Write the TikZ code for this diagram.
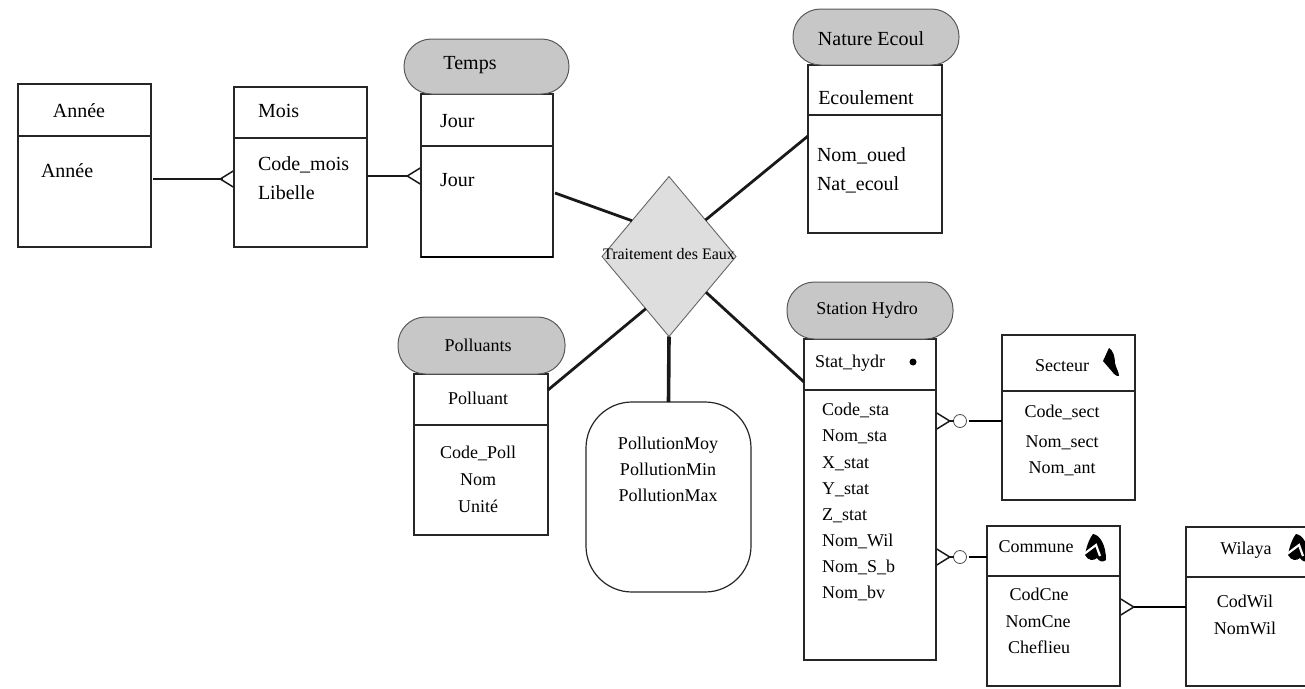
\documentclass[tikz,border=0pt]{standalone}
\usepackage{fontspec}
\setmainfont{Liberation Serif}
\usetikzlibrary{shapes.geometric,arrows.meta}
\tikzset{
  boite/.style={draw=black!85,line width=1.2pt,fill=white,rectangle,inner sep=0pt,outer sep=0pt,anchor=north west},
  tete/.style={draw=black!65,line width=1pt,fill=black!22,rectangle,rounded corners=27.5pt,inner sep=0pt,outer sep=0pt,anchor=north west},
  attr/.style={inner sep=0pt,outer sep=0pt,text height=18pt,text depth=4pt,font=\fontsize{18}{20}\selectfont},
  attrG/.style={attr,font=\fontsize{20}{22}\selectfont},
  lien/.style={line width=2.8pt,black!90},
  patte/.style={line width=1.1pt,black!90,-{Straight Barb[reversed,length=13pt,width=16pt,line width=1.5pt]}},
  rond/.style={circle,draw=black!70,line width=0.8pt,fill=white,minimum size=13pt,inner sep=0pt,outer sep=0pt},
  goutte/.pic={
    \fill[black] (-4,-14) .. controls (3,-13) and (9,-3) .. (9,12) .. controls (5,15) and (2,13) .. (0,10)
      .. controls (-3,13) and (-9,13) .. (-12,7) .. controls (-11,0) and (-8,-9) .. (-4,-14) -- cycle;
    \draw[white,line width=2.2pt] (-13,6) -- (-1,-3) -- (3,8);
  },
  goutteS/.pic={
    \fill[black] (-1,-14) .. controls (3,-12) and (5,-5) .. (5,1) .. controls (6,6) and (9,10) .. (9,14)
      .. controls (5,15) and (2,9) .. (-1,6) .. controls (-3,3) and (-6,1) .. (-7,-1)
      .. controls (-5,-5) and (-3,-10) .. (-1,-14) -- cycle;
  }
}
\begin{document}
\begin{tikzpicture}[x=1pt,y=-1pt]
  \useasboundingbox (0,0) rectangle (1305,688);
  % Annee
  \node[boite,minimum width=133pt,minimum height=52pt] (anneeH) at (18,84) {};
  \node[boite,minimum width=133pt,minimum height=111pt] (anneeB) at (18,136) {};
  \node[attrG] (anneeT) at (79,110) {Année};
  \node[attrG,anchor=west] (anneeA) at (41,170) {Année};
  % Mois
  \node[boite,minimum width=133pt,minimum height=51pt] (moisH) at (234,87) {};
  \node[boite,minimum width=133pt,minimum height=109pt] (moisB) at (234,138) {};
  \node[attrG,anchor=west] (moisT) at (258,110) {Mois};
  \node[attrG,anchor=west] (moisA) at (258,163) {Code\_mois};
  \node[attrG,anchor=west] (moisC) at (258,192) {Libelle};
  % Temps
  \node[boite,minimum width=132pt,minimum height=52pt] (jourH) at (421,94) {};
  \node[boite,minimum width=132pt,minimum height=111pt] (jourB) at (421,146) {};
  \node[tete,minimum width=165pt,minimum height=55pt] (temps) at (404,39) {};
  \node[attrG] (tempsT) at (470,62) {Temps};
  \node[attrG,anchor=west] (jourT) at (440,120) {Jour};
  \node[attrG,anchor=west] (jourA) at (440,179) {Jour};
  \draw[line width=2.4pt] (jourB.south west) -- (jourB.south east);
  % Nature Ecoul
  \node[boite,minimum width=134pt,minimum height=50pt] (ecoulH) at (808,65) {};
  \node[boite,minimum width=134pt,minimum height=118pt] (ecoulB) at (808,115) {};
  \node[tete,minimum width=166pt,minimum height=56pt] (nature) at (793,9) {};
  \node[attrG] (natureT) at (871,38) {Nature Ecoul};
  \node[attrG] (ecoulT) at (866,97) {Ecoulement};
  \node[attrG,anchor=west] (ecoulA) at (817,154) {Nom\_oued};
  \node[attrG,anchor=west] (ecoulC) at (817,183) {Nat\_ecoul};
  % Polluants
  \node[boite,minimum width=134pt,minimum height=51pt] (polH) at (414,374) {};
  \node[boite,minimum width=134pt,minimum height=110pt] (polB) at (414,425) {};
  \node[tete,minimum width=167pt,minimum height=57pt] (polluants) at (398,317) {};
  \node[attr] (polluantsT) at (478,344) {Polluants};
  \node[attr] (polT) at (478,397) {Polluant};
  \node[attr] (polA) at (478,451) {Code\_Poll};
  \node[attr] (polC) at (478,478) {Nom};
  \node[attr] (polD) at (478,505) {Unité};
  % mesures
  \node[draw=black!85,line width=1.2pt,rectangle,rounded corners=46pt,minimum width=165pt,minimum height=190pt,inner sep=0pt,outer sep=0pt,anchor=north west] (mesures) at (586,402) {};
  \node[attr] (mesA) at (668,442) {PollutionMoy};
  \node[attr] (mesB) at (668,468) {PollutionMin};
  \node[attr] (mesC) at (668,494) {PollutionMax};
  % Traitement
  \node[diamond,draw=black!60,line width=0.9pt,fill=black!13,minimum width=134pt,minimum height=160pt,inner sep=0pt,outer sep=0pt] (traitement) at (669,256.5) {};
  \node[inner sep=0pt,font=\fontsize{16}{18}\selectfont] (traitementT) at (669,254) {Traitement des Eaux};
  % Station
  \node[boite,minimum width=132pt,minimum height=51pt] (statH) at (804,339) {};
  \node[boite,minimum width=132pt,minimum height=270pt] (statB) at (804,390) {};
  \node[tete,minimum width=166pt,minimum height=57pt] (station) at (787,282) {};
  \node[attr] (stationT) at (867,307) {Station Hydro};
  \node[attr,anchor=west] (statT) at (815,360) {Stat\_hydr};
  \node[circle,fill=black,minimum size=7pt,inner sep=0pt] (statP) at (913,362) {};
  \node[attr,anchor=west] (statA) at (822,408) {Code\_sta};
  \node[attr,anchor=west] (statC) at (822,434) {Nom\_sta};
  \node[attr,anchor=west] (statD) at (822,461) {X\_stat};
  \node[attr,anchor=west] (statE) at (822,487) {Y\_stat};
  \node[attr,anchor=west] (statF) at (822,513) {Z\_stat};
  \node[attr,anchor=west] (statG) at (822,539) {Nom\_Wil};
  \node[attr,anchor=west] (statI) at (822,565) {Nom\_S\_b};
  \node[attr,anchor=west] (statJ) at (822,591) {Nom\_bv};
  % Secteur
  \node[boite,minimum width=133pt,minimum height=56pt] (sectH) at (1002,335) {};
  \node[boite,minimum width=133pt,minimum height=109pt] (sectB) at (1002,391) {};
  \node[attr] (sectT) at (1062,364) {Secteur};
  \node[attr] (sectA) at (1062,410) {Code\_sect};
  \node[attr] (sectC) at (1062,440) {Nom\_sect};
  \node[attr] (sectD) at (1062,466) {Nom\_ant};
  \pic at (1110,362) {goutteS};
  % Commune
  \node[boite,minimum width=133pt,minimum height=50pt] (comH) at (987,526) {};
  \node[boite,minimum width=133pt,minimum height=110pt] (comB) at (987,576) {};
  \node[attr] (comT) at (1036,545) {Commune};
  \node[attr] (comA) at (1039,593) {CodCne};
  \node[attr] (comC) at (1038,620) {NomCne};
  \node[attr] (comD) at (1039,646) {Cheflieu};
  \pic at (1097,548) {goutte};
  % Wilaya
  \node[boite,minimum width=140pt,minimum height=50pt] (wilH) at (1186,527) {};
  \node[boite,minimum width=140pt,minimum height=109pt] (wilB) at (1186,577) {};
  \node[attr] (wilT) at (1246,547) {Wilaya};
  \node[attr] (wilA) at (1245,600) {CodWil};
  \node[attr] (wilC) at (1245,627) {NomWil};
  \pic at (1300,548) {goutte};
  % liens
  \coordinate (yAn) at (0,179);
  \coordinate (yMo) at (0,176);
  \coordinate (ySe) at (0,421);
  \coordinate (yCo) at (0,557);
  \coordinate (yWi) at (0,607);
  \coordinate (tJour) at (555,193);
  \draw[patte] (anneeB.east |- yAn) ++(2,0) -- (moisB.west |- yAn);
  \draw[lien] (anneeB.east |- yAn) ++(2,0) -- ++(70,0);
  \draw[patte] (moisB.east |- yMo) -- (jourB.west |- yMo);
  \draw[lien] (moisB.east |- yMo) -- ++(42,0);
  \draw[lien] (tJour) -- (traitement.136);
  \draw[lien] (traitement.45) -- (ecoulB.west |- 0,136);
  \draw[lien] (traitement.246.5) -- (polB.east |- 0,390);
  \draw[lien,line width=3.6pt] (traitement.south) -- (mesures.north);
  \draw[lien] (traitement.316) -- (statB.west |- 0,382);
  \node[rond] (rondS) at (960,421) {};
  \node[rond] (rondC) at (960,557) {};
  \draw[patte] (rondS.west) -- (statB.east |- ySe);
  \draw[line width=1.3pt] (rondS.east) ++(2,0) -- (sectB.west |- ySe);
  \draw[patte] (rondC.west) -- (statB.east |- yCo);
  \draw[line width=1.3pt] (rondC.east) ++(2,0) -- (comH.west |- yCo);
  \draw[patte] (wilB.west |- yWi) -- (comB.east |- yWi);
  \draw[line width=1.6pt] (wilB.west |- yWi) -- ++(-52,0);
\end{tikzpicture}
\end{document}
